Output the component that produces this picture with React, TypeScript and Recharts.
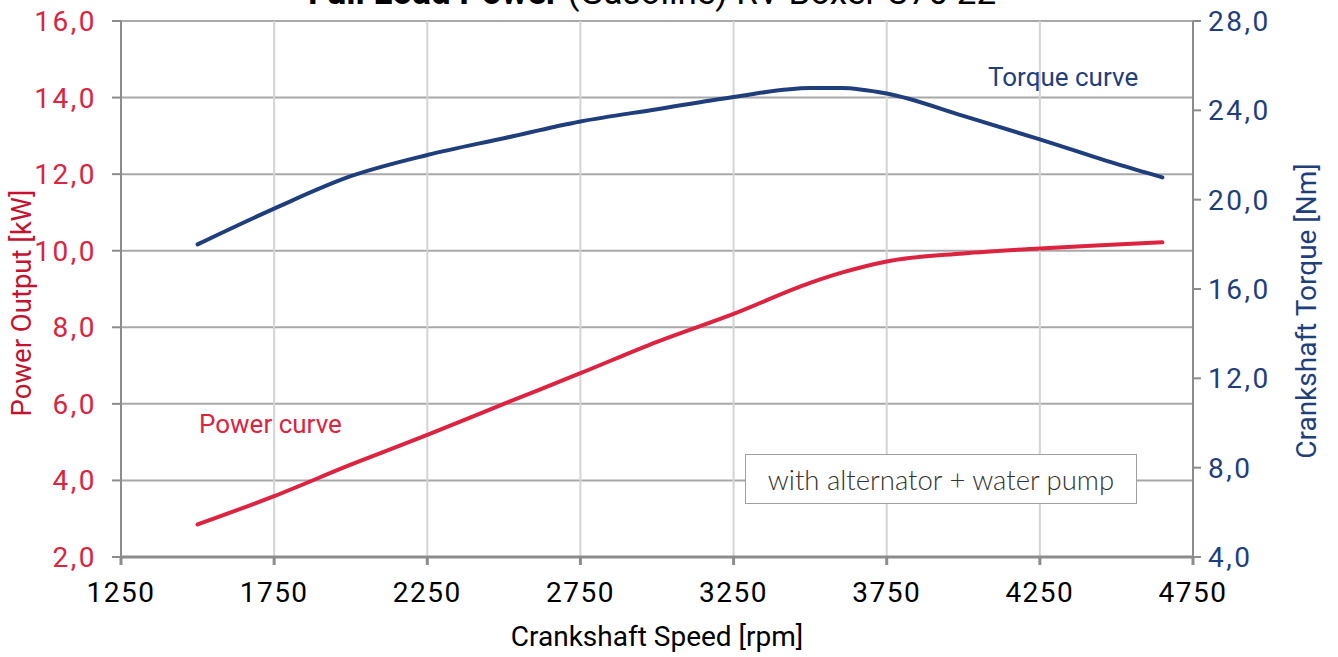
import { ComposedChart, Line, XAxis, YAxis, CartesianGrid, Label } from 'recharts';

const RED = '#dc2340';
const DARK_RED = '#c4122f';
const BLUE = '#1f3e7c';
const FONT = 'Roboto, "Liberation Sans", sans-serif';

// engine speed samples [rpm]
const rpm = [1500, 1750, 2000, 2250, 2500, 2750, 3000, 3250, 3500, 3600, 3750, 4000, 4250, 4500, 4650];
// full load power [kW]
const powerKw = [2.85, 3.59, 4.41, 5.19, 6.0, 6.8, 7.62, 8.35, 9.16, 9.42, 9.72, 9.93, 10.06, 10.16, 10.22];
// crankshaft torque [Nm]
const torqueNm = [18.0, 19.6, 21.05, 22.0, 22.75, 23.5, 24.05, 24.6, 25.0, 25.0, 24.75, 23.75, 22.7, 21.6, 21.0];

const rpmTicks = [1250, 1750, 2250, 2750, 3250, 3750, 4250, 4750];
const powerTicks = [2, 4, 6, 8, 10, 12, 14, 16];
const torqueTicks = [4, 8, 12, 16, 20, 24, 28];

const data = rpm.map((r, i) => ({ rpm: r, power: powerKw[i], torque: torqueNm[i] }));

const fmt = (v: number) => v.toFixed(1).replace('.', ',');

export default function App() {
  return (
    <div style={{ position: 'absolute', left: 0, top: 0, width: 1338, height: 657, background: '#fff', fontFamily: FONT }}>
      <svg width={1338} height={20} style={{ position: 'absolute', left: 0, top: 0 }}>
        <text x={652} y={4} textAnchor="middle" fontSize={35} fill="#000" fontFamily={FONT}>
          <tspan fontWeight="bold">Full Load Power</tspan> (Gasoline) RV Boxer C70 22
        </text>
      </svg>
      <ComposedChart width={1338} height={657} data={data} margin={{ top: 21, right: 0, bottom: 0, left: 0 }}>
        <CartesianGrid yAxisId="left" vertical={false} stroke="#a8a8a8" strokeWidth={2} />
        <CartesianGrid yAxisId="left" horizontal={false} stroke="#d4d4d4" strokeWidth={2} />
        <XAxis
          dataKey="rpm"
          type="number"
          domain={[1250, 4750]}
          ticks={rpmTicks}
          height={100}
          stroke="#8c8c8c"
          strokeWidth={3}
          tickSize={8}
          tickMargin={17}
          tick={{ fill: '#000', fontSize: 28, fontFamily: FONT, letterSpacing: 1.5 }}
        >
          <Label value="Crankshaft Speed [rpm]" position="insideBottom" offset={11} style={{ fill: '#000', fontSize: 28, fontFamily: FONT }} />
        </XAxis>
        <YAxis
          yAxisId="left"
          domain={[2, 16]}
          ticks={powerTicks}
          width={121}
          stroke="#8c8c8c"
          strokeWidth={2}
          tickSize={9}
          tickMargin={15}
          tickFormatter={fmt}
          tick={{ fill: RED, fontSize: 28, fontFamily: FONT, letterSpacing: 2.5 }}
        >
          <Label value="Power Output [kW]" angle={-90} position="insideLeft" offset={21} dy={14} style={{ fill: DARK_RED, fontSize: 27.5, textAnchor: 'middle', fontFamily: FONT }} />
        </YAxis>
        <YAxis
          yAxisId="right"
          orientation="right"
          domain={[4, 28]}
          ticks={torqueTicks}
          width={145}
          stroke="#8c8c8c"
          strokeWidth={2}
          tickSize={8}
          tickMargin={7}
          tickFormatter={fmt}
          tick={{ fill: BLUE, fontSize: 28, fontFamily: FONT, textAnchor: 'start', letterSpacing: 2.5 }}
        >
          <Label value="Crankshaft Torque [Nm]" angle={-90} position="insideRight" offset={32} dy={22} style={{ fill: BLUE, fontSize: 28, textAnchor: 'middle', fontFamily: FONT }} />
        </YAxis>
        <Line yAxisId="right" type="monotone" dataKey="torque" stroke={BLUE} strokeWidth={4} strokeLinecap="round" dot={false} isAnimationActive={false} />
        <Line yAxisId="left" type="monotone" dataKey="power" stroke={RED} strokeWidth={4} strokeLinecap="round" dot={false} isAnimationActive={false} />
      </ComposedChart>
      <div style={{ position: 'absolute', left: 199, top: 408, color: RED, fontSize: 26, lineHeight: '32px', whiteSpace: 'nowrap' }}>Power curve</div>
      <div style={{ position: 'absolute', left: 988, top: 61, color: BLUE, fontSize: 26, lineHeight: '32px', whiteSpace: 'nowrap' }}>Torque curve</div>
      <div
        style={{
          position: 'absolute',
          left: 745,
          top: 454,
          width: 390,
          height: 48,
          border: '1.5px solid #a0a0a0',
          background: '#fff',
          display: 'flex',
          alignItems: 'center',
          justifyContent: 'center',
          fontFamily: 'Lato, sans-serif',
          fontWeight: 300,
          fontSize: 27.5,
          color: '#333',
          whiteSpace: 'nowrap',
        }}
      >
        with alternator + water pump
      </div>
    </div>
  );
}
